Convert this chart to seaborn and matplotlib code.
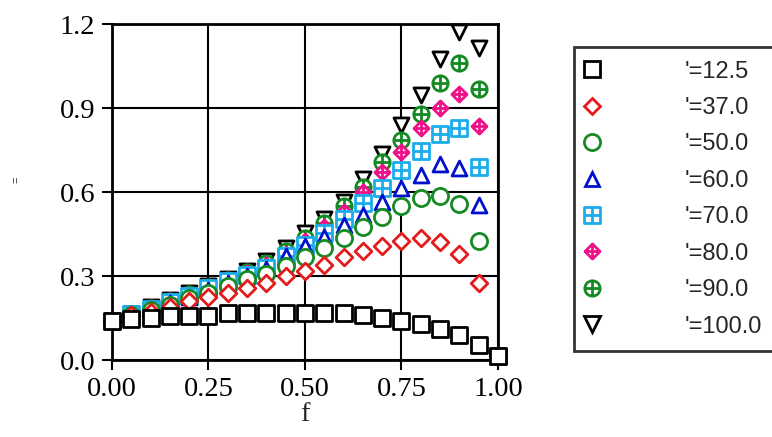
import numpy as np
import pandas as pd
import matplotlib
matplotlib.use("Agg")
import matplotlib.pyplot as plt
from matplotlib.path import Path
from matplotlib.lines import Line2D
import seaborn as sns

# ---- data -------------------------------------------------------------
f_values = [0.00, 0.05, 0.10, 0.15, 0.20, 0.25, 0.30, 0.35, 0.40, 0.45, 0.50,
            0.55, 0.60, 0.65, 0.70, 0.75, 0.80, 0.85, 0.90, 0.95, 1.00]

series_labels = ["'=12.5", "'=37.0", "'=50.0", "'=60.0",
                 "'=70.0", "'=80.0", "'=90.0", "'=100.0"]

y_12_5 = [0.140, 0.148, 0.150, 0.157, 0.157, 0.158, 0.168, 0.167, 0.167, 0.167, 0.168,
          0.168, 0.167, 0.160, 0.150, 0.140, 0.130, 0.110, 0.090, 0.055, 0.015]
y_37_0 = [0.140, 0.160, 0.170, 0.190, 0.212, 0.226, 0.240, 0.256, 0.274, 0.300, 0.318,
          0.339, 0.369, 0.390, 0.407, 0.426, 0.434, 0.420, 0.378, 0.274, 0.015]
y_50_0 = [0.140, 0.162, 0.180, 0.198, 0.220, 0.241, 0.266, 0.288, 0.307, 0.336, 0.369,
          0.400, 0.434, 0.474, 0.512, 0.550, 0.577, 0.587, 0.557, 0.426, 0.015]
y_60_0 = [0.140, 0.163, 0.182, 0.203, 0.225, 0.250, 0.275, 0.300, 0.325, 0.372, 0.408,
          0.440, 0.482, 0.518, 0.565, 0.613, 0.660, 0.699, 0.687, 0.553, 0.015]
y_70_0 = [0.140, 0.164, 0.183, 0.207, 0.230, 0.256, 0.282, 0.305, 0.330, 0.370, 0.410,
          0.455, 0.505, 0.560, 0.613, 0.680, 0.747, 0.807, 0.827, 0.690, 0.015]
y_80_0 = [0.140, 0.165, 0.185, 0.210, 0.233, 0.258, 0.285, 0.310, 0.340, 0.380, 0.425,
          0.475, 0.527, 0.600, 0.672, 0.744, 0.830, 0.900, 0.950, 0.836, 0.015]
y_90_0 = [0.140, 0.165, 0.187, 0.212, 0.235, 0.260, 0.287, 0.313, 0.345, 0.388, 0.436,
          0.490, 0.550, 0.617, 0.707, 0.786, 0.880, 0.990, 1.060, 0.967, 0.015]
y_100_0 = [0.140, 0.166, 0.190, 0.215, 0.238, 0.263, 0.290, 0.318, 0.353, 0.400, 0.452,
           0.505, 0.565, 0.645, 0.735, 0.840, 0.945, 1.075, 1.170, 1.115, 0.015]

series_values = [y_12_5, y_37_0, y_50_0, y_60_0, y_70_0, y_80_0, y_90_0, y_100_0]

x_ticks = [0.00, 0.25, 0.50, 0.75, 1.00]
x_tick_labels = ["0.00", "0.25", "0.50", "0.75", "1.00"]
y_ticks = [0.0, 0.3, 0.6, 0.9, 1.2]
y_tick_labels = ["0.0", "0.3", "0.6", "0.9", "1.2"]

df = pd.DataFrame({
    "f": np.tile(f_values, len(series_labels)),
    "value": np.concatenate(series_values),
    "series": np.repeat(series_labels, len(f_values)),
})

# ---- marker shapes ----------------------------------------------------
def with_cross(base):
    cross = Path([(0, -1), (0, 1), (-1, 0), (1, 0)],
                 [Path.MOVETO, Path.LINETO, Path.MOVETO, Path.LINETO])
    return Path.make_compound_path(base, cross)

square_grid = with_cross(Path([(-1, -1), (1, -1), (1, 1), (-1, 1), (-1, -1)],
                              [Path.MOVETO, Path.LINETO, Path.LINETO, Path.LINETO, Path.CLOSEPOLY]))
diamond_cross = with_cross(Path([(0, -1), (1, 0), (0, 1), (-1, 0), (0, -1)],
                                [Path.MOVETO, Path.LINETO, Path.LINETO, Path.LINETO, Path.CLOSEPOLY]))
circle_cross = with_cross(Path.unit_circle())

styles = {
    "'=12.5":  dict(marker="s",           color="#000000", s=118),
    "'=37.0":  dict(marker="D",           color="#e41a1c", s=72),
    "'=50.0":  dict(marker="o",           color="#168a24", s=135),
    "'=60.0":  dict(marker="^",           color="#0010cc", s=115),
    "'=70.0":  dict(marker=square_grid,   color="#1badeb", s=128),
    "'=80.0":  dict(marker=diamond_cross, color="#ee1289", s=118),
    "'=90.0":  dict(marker=circle_cross,  color="#138a22", s=122),
    "'=100.0": dict(marker="v",           color="#000000", s=118),
}
marker_lw = 2.0

# ---- figure -----------------------------------------------------------
sns.set_style("white")
plt.rcParams["font.family"] = ["Liberation Serif", "DejaVu Serif"]

fig = plt.figure(figsize=(7.72, 4.37), dpi=100)
ax = fig.add_axes([112 / 772, 1 - 360 / 437, 386 / 772, 336 / 437])

n = len(series_labels)
for i, label in enumerate(series_labels):
    st = styles[label]
    sns.scatterplot(data=df[df["series"] == label], x="f", y="value", ax=ax,
                    marker=st["marker"], s=st["s"], color=st["color"],
                    facecolor="white", edgecolor=st["color"], linewidth=marker_lw,
                    clip_on=False, zorder=10 + (n - i), legend=False)

ax.set_xlim(0, 1.0)
ax.set_ylim(0, 1.2)
ax.set_xticks(x_ticks)
ax.set_xticklabels(x_tick_labels)
ax.set_yticks(y_ticks)
ax.set_yticklabels(y_tick_labels)
ax.tick_params(axis="both", direction="out", length=7, width=1.5,
               labelsize=20.5, colors="black", pad=5,
               bottom=True, left=True, top=False, right=False)
ax.grid(True, color="black", linewidth=1.5)
ax.set_axisbelow(True)
for sp in ax.spines.values():
    sp.set_visible(True)
    sp.set_color("black")
    sp.set_linewidth(2)

ax.set_xlabel("f", fontsize=20.5, labelpad=0)
ax.set_ylabel("=", fontsize=8, family="Liberation Sans")
ax.yaxis.set_label_coords(-0.233, 0.536)

# ---- legend -----------------------------------------------------------
handles = []
for label in series_labels:
    st = styles[label]
    handles.append(Line2D([], [], linestyle="none", marker=st["marker"],
                          markersize=np.sqrt(st["s"]), markerfacecolor="white",
                          markeredgecolor=st["color"], markeredgewidth=marker_lw))

leg = fig.legend(handles, series_labels, loc="upper left",
                 bbox_to_anchor=(574 / 772, 1 - 47 / 437), borderaxespad=0,
                 prop={"family": "Liberation Sans", "size": 17},
                 frameon=True, fancybox=False, edgecolor="black",
                 borderpad=0.58, labelspacing=0.61, handlelength=0.4,
                 handletextpad=3.7, numpoints=1)
leg.get_frame().set_linewidth(2)

fig.savefig("out.png", dpi=100)
